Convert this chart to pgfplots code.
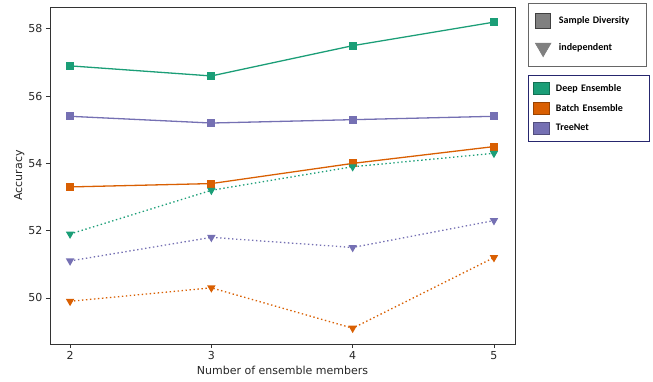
\documentclass[border=0pt]{standalone}
\usepackage{pgfplots}
\pgfplotsset{compat=1.18}
\usepackage{fontspec}
\setmainfont{DejaVu Sans}
\newfontfamily\carlito{Carlito}
\definecolor{cDeep}{HTML}{1B9E77}
\definecolor{cBatch}{HTML}{D95F02}
\definecolor{cTree}{HTML}{7570B3}
\begin{document}
\begin{tikzpicture}
\useasboundingbox (-50pt,-37pt) rectangle (603pt,344pt);
\begin{axis}[
  at={(0pt,0pt)}, anchor=south west,
  scale only axis, width=465pt, height=337pt,
  xmin=1.858, xmax=5.149, ymin=48.63, ymax=58.65,
  xtick={2,3,4,5}, ytick={50,52,54,56,58},
  tick align=outside, tick pos=left,
  major tick length=4pt,
  every tick/.style={black!80, line width=0.8pt},
  axis line style={black!80, line width=0.9pt},
  /pgf/number format/assume math mode=true,
  ticklabel style={font=\fontsize{11}{13}\selectfont, text=black!85},
  label style={font=\fontsize{11}{13}\selectfont, text=black!85},
  xlabel={Number of ensemble members},
  ylabel={Accuracy},
  xlabel style={at={(axis description cs:0.5,0)}, anchor=north, yshift=-19pt},
  ylabel style={at={(axis description cs:0,0.5)}, anchor=south, xshift=0pt, yshift=22pt},
  every axis plot/.append style={line width=1.3pt},
]
% solid: sample diversity
\addplot[cDeep, mark=square*, mark size=3.3pt, mark options={solid}] coordinates {(2,56.9) (3,56.6) (4,57.5) (5,58.2)};
\addplot[cTree, mark=square*, mark size=3.3pt, mark options={solid}] coordinates {(2,55.4) (3,55.2) (4,55.3) (5,55.4)};
\addplot[cBatch, mark=square*, mark size=3.3pt, mark options={solid}] coordinates {(2,53.3) (3,53.4) (4,54.0) (5,54.5)};
% dotted: independent
\addplot[cDeep, dash pattern=on 1.4pt off 2.6pt, mark=triangle*, mark size=3.6pt, mark options={solid, rotate=180}] coordinates {(2,51.9) (3,53.2) (4,53.9) (5,54.3)};
\addplot[cTree, dash pattern=on 1.4pt off 2.6pt, mark=triangle*, mark size=3.6pt, mark options={solid, rotate=180}] coordinates {(2,51.1) (3,51.8) (4,51.5) (5,52.3)};
\addplot[cBatch, dash pattern=on 1.4pt off 2.6pt, mark=triangle*, mark size=3.6pt, mark options={solid, rotate=180}] coordinates {(2,49.9) (3,50.3) (4,49.1) (5,51.2)};
\end{axis}
% legend 1
\begin{axis}[
  at={(0pt,0pt)}, anchor=south west,
  scale only axis, width=465pt, height=337pt, hide axis,
  xmin=0, xmax=1, ymin=0, ymax=1,
  legend style={at={(478pt,341pt)}, anchor=north west, draw=black!60, line width=0.7pt,
    font=\carlito\bfseries\fontsize{10}{12}\selectfont, row sep=13pt,
    inner xsep=7pt, inner ysep=10pt, cells={anchor=west},
    text width=78pt,
    /tikz/every odd column/.append style={column sep=6pt}},
  legend cell align=left,
]
\addlegendimage{only marks, mark=square*, mark size=7.5pt, mark options={fill=black!50, draw=black!75, line width=0.8pt}}
\addlegendentry{Sample Diversity}
\addlegendimage{only marks, mark=triangle*, mark size=9pt, mark options={fill=black!50, draw=black!50, rotate=180}}
\addlegendentry{independent}
\end{axis}
% legend 2
\begin{axis}[
  at={(0pt,0pt)}, anchor=south west,
  scale only axis, width=465pt, height=337pt, hide axis,
  xmin=0, xmax=1, ymin=0, ymax=1,
  legend style={at={(478pt,269pt)}, anchor=north west, draw=black!60!blue!70!gray, line width=0.7pt,
    font=\carlito\bfseries\fontsize{10}{12}\selectfont, row sep=7pt,
    inner xsep=5pt, inner ysep=7pt, cells={anchor=west},
    text width=86pt,
    /tikz/every odd column/.append style={column sep=4pt}},
  legend cell align=left,
  legend image code/.code={\draw[#1] (0pt,-6pt) rectangle (16pt,6pt);},
]
\addlegendimage{fill=cDeep, draw=cDeep!70!black, line width=0.6pt}
\addlegendentry{Deep Ensemble}
\addlegendimage{fill=cBatch, draw=cBatch!70!black, line width=0.6pt}
\addlegendentry{Batch Ensemble}
\addlegendimage{fill=cTree, draw=cTree!70!black, line width=0.6pt}
\addlegendentry{TreeNet}
\end{axis}
\end{tikzpicture}
\end{document}
